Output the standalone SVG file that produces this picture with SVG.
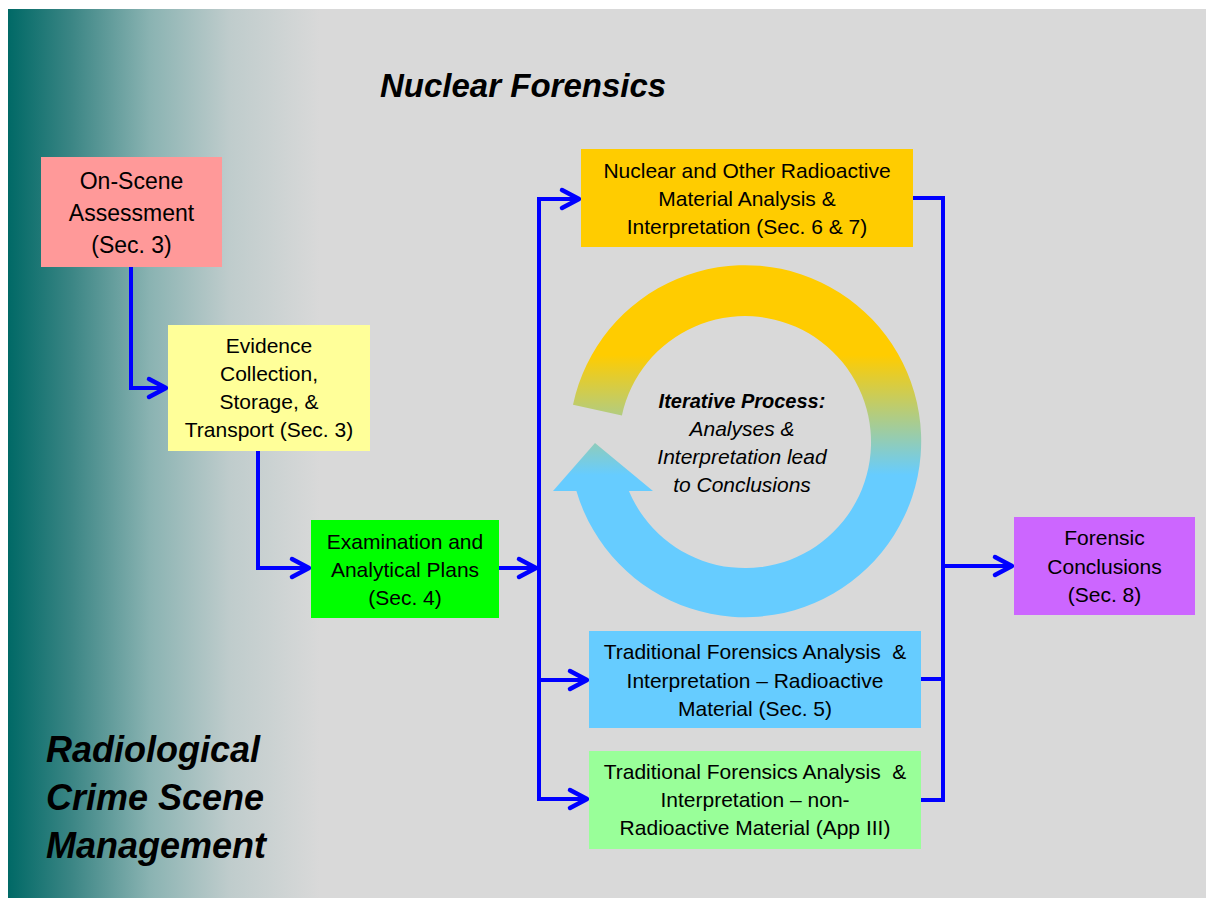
<svg xmlns="http://www.w3.org/2000/svg" width="1206" height="905" viewBox="0 0 1206 905">
  <defs>
    <linearGradient id="bg" gradientUnits="userSpaceOnUse" x1="8" y1="0" x2="320" y2="0">
      <stop offset="0" stop-color="#006966"/>
      <stop offset="0.2" stop-color="#3A8584"/>
      <stop offset="0.455" stop-color="#8AB3B2"/>
      <stop offset="0.71" stop-color="#BFCCCC"/>
      <stop offset="1" stop-color="#D9D9D9"/>
    </linearGradient>
    <linearGradient id="ring" gradientUnits="userSpaceOnUse" x1="0" y1="355" x2="0" y2="475">
      <stop offset="0" stop-color="#FFCC00"/>
      <stop offset="1" stop-color="#66CCFF"/>
    </linearGradient>
    <marker id="arr" markerUnits="userSpaceOnUse" viewBox="-22 -12 26 24" refX="0" refY="0" markerWidth="26" markerHeight="24" orient="auto" overflow="visible">
      <path d="M-17,-9 L0,0 L-17,9" fill="none" stroke="#0000FF" stroke-width="4.5" stroke-linecap="round" stroke-linejoin="round"/>
    </marker>
    <style>
      .box text { font-family: "Liberation Sans", Arial, sans-serif; font-size: 21px; fill: #000; text-anchor: middle; }
      .conn path { fill: none; stroke: #0000FF; stroke-width: 4; }
      .title { font-family: "Liberation Sans", Arial, sans-serif; font-weight: bold; font-style: italic; fill: #000; }
      .cyc { font-family: "Liberation Sans", Arial, sans-serif; font-style: italic; font-size: 21px; text-anchor: middle; fill: #000; }
    </style>
  </defs>

  <rect x="0" y="0" width="1206" height="905" fill="#FFFFFF"/>
  <rect x="8" y="9" width="1198" height="889" fill="#D9D9D9"/>
  <rect x="8" y="9" width="312" height="889" fill="url(#bg)"/>

  <text class="title" x="380" y="97" font-size="33">Nuclear Forensics</text>
  <text class="title" font-size="36">
    <tspan x="46" y="762">Radiological</tspan>
    <tspan x="46" y="810">Crime Scene</tspan>
    <tspan x="46" y="858">Management</tspan>
  </text>

  <g id="cycle">
    <path d="M573,404.8 A176,176 0 1 1 576.4,491 L553,491 L595,443 L653,491 L628.9,491 A126,126 0 1 0 621.9,415.4 Z" fill="url(#ring)"/>
    <text class="cyc"><tspan x="742" y="408" font-weight="bold" font-size="20">Iterative Process:</tspan><tspan x="742" y="436">Analyses &amp;</tspan><tspan x="742" y="464">Interpretation lead</tspan><tspan x="742" y="492">to Conclusions</tspan></text>
  </g>

  <g class="conn" id="connectors">
    <path d="M131,267 V388 H166" marker-end="url(#arr)"/>
    <path d="M258,451 V568 H309" marker-end="url(#arr)"/>
    <path d="M499,568 H536" marker-end="url(#arr)"/>
    <path d="M539,680 V199 H579" marker-end="url(#arr)"/>
    <path d="M539,680 H587" marker-end="url(#arr)"/>
    <path d="M539,680 V799 H587" marker-end="url(#arr)"/>
    <path d="M913,198 H943 V800 H921"/>
    <path d="M921,679 H943"/>
    <path d="M943,566 H1012" marker-end="url(#arr)"/>
  </g>

  <g id="onscene" class="box">
    <rect x="41" y="157" width="181" height="110" fill="#FF9999"/>
    <text style="font-size:23px"><tspan x="131.5" y="189">On-Scene</tspan><tspan x="131.5" y="221">Assessment</tspan><tspan x="131.5" y="253">(Sec. 3)</tspan></text>
  </g>
  <g id="evidence" class="box">
    <rect x="168" y="325" width="202" height="126" fill="#FFFF99"/>
    <text><tspan x="269" y="353">Evidence</tspan><tspan x="269" y="381">Collection,</tspan><tspan x="269" y="409">Storage, &amp;</tspan><tspan x="269" y="437">Transport (Sec. 3)</tspan></text>
  </g>
  <g id="exam" class="box">
    <rect x="311" y="520" width="188" height="98" fill="#00FF00"/>
    <text><tspan x="405" y="549">Examination and</tspan><tspan x="405" y="577">Analytical Plans</tspan><tspan x="405" y="605">(Sec. 4)</tspan></text>
  </g>
  <g id="nuclear" class="box">
    <rect x="581" y="149" width="332" height="98" fill="#FFCC00"/>
    <text><tspan x="747" y="178">Nuclear and Other Radioactive</tspan><tspan x="747" y="206">Material Analysis &amp;</tspan><tspan x="747" y="234">Interpretation (Sec. 6 &amp; 7)</tspan></text>
  </g>
  <g id="trad-rad" class="box">
    <rect x="589" y="631" width="332" height="97" fill="#66CCFF"/>
    <text><tspan x="755" y="659" xml:space="preserve">Traditional Forensics Analysis  &amp;</tspan><tspan x="755" y="688">Interpretation – Radioactive</tspan><tspan x="755" y="716">Material (Sec. 5)</tspan></text>
  </g>
  <g id="trad-nonrad" class="box">
    <rect x="589" y="751" width="332" height="98" fill="#99FF99"/>
    <text><tspan x="755" y="779" xml:space="preserve">Traditional Forensics Analysis  &amp;</tspan><tspan x="755" y="807">Interpretation – non-</tspan><tspan x="755" y="835">Radioactive Material (App III)</tspan></text>
  </g>
  <g id="conclusions" class="box">
    <rect x="1014" y="517" width="181" height="98" fill="#CC66FF"/>
    <text><tspan x="1104.5" y="545">Forensic</tspan><tspan x="1104.5" y="574">Conclusions</tspan><tspan x="1104.5" y="602">(Sec. 8)</tspan></text>
  </g>
</svg>
